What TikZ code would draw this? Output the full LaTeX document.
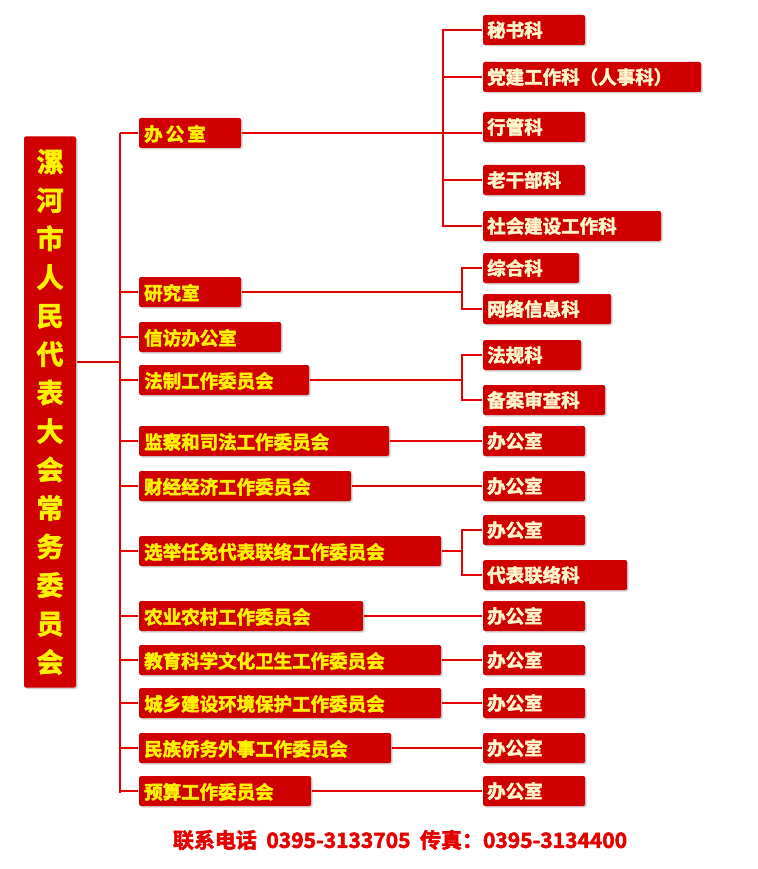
\documentclass[tikz,border=0pt]{standalone}
\usepackage{fontspec}
\newfontfamily\cjk[FakeBold=2.5]{Noto Sans CJK SC Bold}
\usetikzlibrary{positioning, shadows}
\definecolor{boxred}{HTML}{D00000}
\definecolor{linered}{HTML}{E60000}
\definecolor{txtyellow}{HTML}{FFF200}
\definecolor{txtcream}{HTML}{FFF6CC}

\begin{document}
\begin{tikzpicture}[x=1pt, y=-1pt, line width=2.2pt, draw=linered]
    \tikzstyle{unit}=[fill=boxred, rounded corners=2pt, inner sep=0pt, minimum height=30pt,
                      font=\cjk\fontsize{18.5}{18.5}\selectfont, anchor=west,
                      drop shadow={shadow xshift=1.5pt, shadow yshift=-1.5pt, fill=black!35}]
    \tikzstyle{committee}=[unit, text=txtyellow, align=left, text depth=0pt]
    \tikzstyle{section}=[unit, text=txtcream]
    \useasboundingbox (0,0) rectangle (757,869);

    % The head box
    \node[unit, text=txtyellow, anchor=center, minimum width=52pt, minimum height=551pt,
          font=\cjk\fontsize{27}{38.5}\selectfont, align=center] (head) at (50,412)
          {漯\\河\\市\\人\\民\\代\\表\\大\\会\\常\\务\\委\\员\\会};
    \coordinate (trunk) at (120,362);
    \draw (head.east |- trunk) -- (trunk);
    \draw (120,133) -- (120,793);

    % Committees: name / y / width / label
    \foreach \name / \y / \w / \txt in {
        bgs/133/102/{\,办\,公\,室},
        yjs/292/102/{\,研究室},
        xf/337/142/{\,信访办公室},
        fz/380/170/{\,法制工作委员会},
        jc/441/250/{\,监察和司法工作委员会},
        cj/486/212/{\,财经经济工作委员会},
        xj/551/302/{\,选举任免代表联络工作委员会},
        ny/616/224/{\,农业农村工作委员会},
        jy/660/302/{\,教育科学文化卫生工作委员会},
        cx/703/302/{\,城乡建设环境保护工作委员会},
        mz/748/252/{\,民族侨务外事工作委员会},
        ys/791/172/{\,预算工作委员会}}
    {
        \node[committee, minimum width=\w pt, text width=\w pt - 4pt] (C-\name) at (138,\y) {\txt};
        \draw (120,\y) -- (C-\name.west);
    }

    % Sections: name / y / width / label
    \foreach \name / \y / \w / \txt in {
        ms/30/102/{\,秘书科},
        dj/77/218/{\,党建工作科（人事科）},
        xg/127/102/{\,行管科},
        lg/180/102/{\,老干部科},
        sh/226/178/{\,社会建设工作科},
        zh/268/96/{\,综合科},
        wl/309/128/{\,网络信息科},
        fg/355/98/{\,法规科},
        ba/400/122/{\,备案审查科},
        jcb/441/102/{\,办公室},
        cjb/486/102/{\,办公室},
        xjb/530/102/{\,办公室},
        db/575/144/{\,代表联络科},
        nyb/616/102/{\,办公室},
        jyb/660/102/{\,办公室},
        cxb/703/102/{\,办公室},
        mzb/748/102/{\,办公室},
        ysb/791/102/{\,办公室}}
    {
        \node[section, minimum width=\w pt, text width=\w pt - 2pt] (S-\name) at (482,\y) {\txt};
    }

    % Branches with several sections
    \draw (C-bgs.east) -- (S-xg.west |- C-bgs.east);
    \draw (S-ms.west) -| (443,226) -- (S-sh.west);
    \foreach \s in {dj,lg} \draw (443,0 |- S-\s.west) -- (S-\s.west);
    \draw (C-yjs.east) -- (462,0 |- C-yjs.east);
    \draw (S-zh.west) -| (462,309) -- (S-wl.west);
    \draw (C-fz.east) -- (462,0 |- C-fz.east);
    \draw (S-fg.west) -| (462,400) -- (S-ba.west);
    \draw (C-xj.east) -- (462,0 |- C-xj.east);
    \draw (S-xjb.west) -| (462,575) -- (S-db.west);

    % Single sections
    \foreach \c / \s in {jc/jcb, cj/cjb, ny/nyb, jy/jyb, cx/cxb, mz/mzb, ys/ysb}
        \draw (C-\c.east) -- (S-\s.west);

    % Contact line
    \node[text=linered, font=\cjk\fontsize{21}{21}\selectfont] (contact) at (400,840)
        {联系电话\ \ 0395-3133705\ \ 传真：0395-3134400};
\end{tikzpicture}
\end{document}
